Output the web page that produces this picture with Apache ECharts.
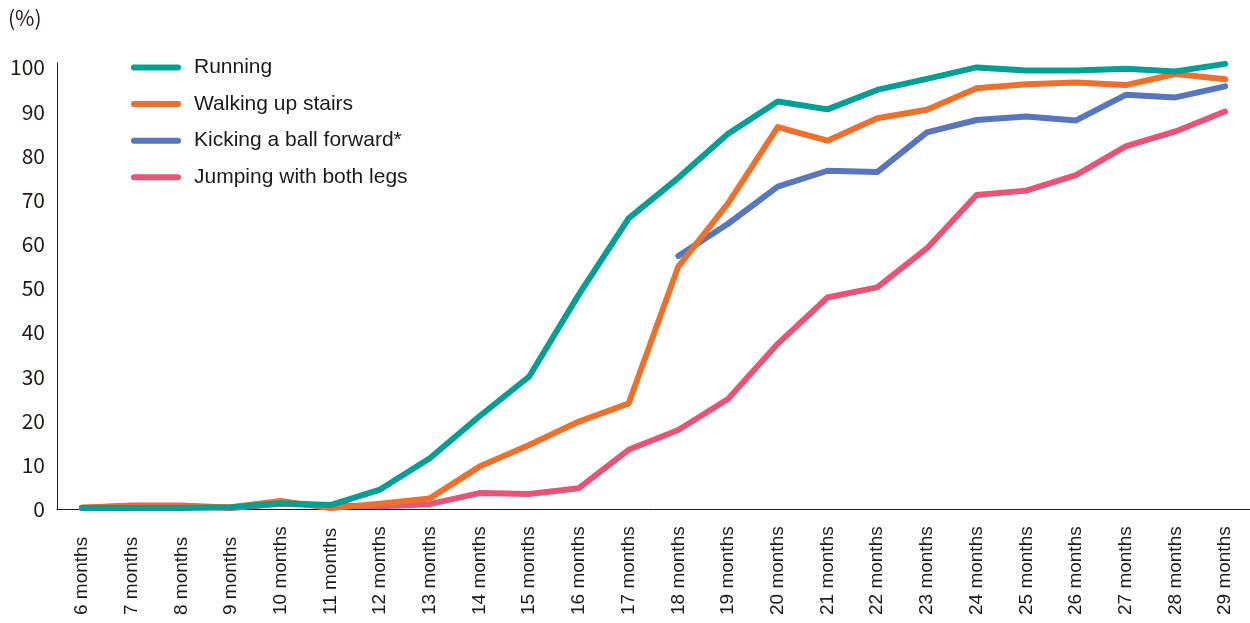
<!DOCTYPE html>
<html>
<head>
<meta charset="utf-8">
<script src="https://cdn.jsdelivr.net/npm/echarts@6/dist/echarts.min.js"></script>
<style>
    html, body { margin: 0; padding: 0; background: #fff; }
    #chart { width: 1250px; height: 623px; }
</style>
</head>
<body>
<div id="chart"></div>
<script>
// months of age
const months = ['6 months', '7 months', '8 months', '9 months', '10 months', '11 months', '12 months',
    '13 months', '14 months', '15 months', '16 months', '17 months', '18 months', '19 months',
    '20 months', '21 months', '22 months', '23 months', '24 months', '25 months', '26 months',
    '27 months', '28 months', '29 months'];

// share of children who can do it (%)
const running = [0.2, 0.2, 0.2, 0.4, 1.3, 0.9, 4.4, 11.5, 21.0, 30.0, 48.6, 65.8,
    75.0, 85.0, 92.3, 90.5, 94.9, 97.4, 100.0, 99.3, 99.3, 99.7, 99.1, 100.8];
const walkingUpStairs = [0.3, 0.6, 0.6, 0.4, 1.8, 0.2, 1.2, 2.4, 9.6, 14.5, 19.8, 23.9,
    54.9, 69.2, 86.5, 83.4, 88.5, 90.4, 95.3, 96.2, 96.6, 96.0, 98.5, 97.3];
// asked from 18 months only
const kickingBall = [null, null, null, null, null, null, null, null, null, null, null, null,
    57.3, 64.6, 73.0, 76.6, 76.3, 85.3, 88.1, 88.9, 88.0, 93.8, 93.2, 95.7];
const jumpingBothLegs = [0.3, 0.8, 0.8, 0.2, 1.2, 0.8, 0.6, 1.1, 3.6, 3.4, 4.7, 13.4,
    17.9, 24.9, 37.4, 47.9, 50.2, 59.0, 71.1, 72.1, 75.6, 82.1, 85.5, 90.0];

const seriesNames = ['Running', 'Walking up stairs', 'Kicking a ball forward*', 'Jumping with both legs'];
const colors = ['#00a096', '#ed702d', '#5876be', '#e85475'];

let myChart = echarts.init(document.getElementById('chart'));

const makeLine = (name, data, color, z) => ({
    name: name,
    type: 'line',
    data: data,
    z: z,
    showSymbol: false,
    symbol: 'none',
    connectNulls: false,
    lineStyle: {
        color: color,
        width: 6,
        cap: 'round',
        join: 'round'
    },
    itemStyle: { color: color }
});

let option = {
    animation: false,
    title: {
        text: '(%)',
        left: 8,
        top: 8,
        padding: 0,
        textStyle: {
            fontFamily: 'Noto Sans CJK JP',
            fontWeight: 'normal',
            fontSize: 21,
            color: '#231815'
        }
    },
    legend: {
        orient: 'vertical',
        left: 131,
        top: 57,
        padding: 0,
        itemWidth: 50,
        itemHeight: 6,
        itemGap: 15.6,
        icon: 'path://M3,0 L47,0 A3,3 0 0 1 47,6 L3,6 A3,3 0 0 1 3,0 Z',
        data: seriesNames,
        textStyle: {
            fontFamily: 'Liberation Sans',
            fontSize: 21,
            color: '#1a1a1a',
            padding: [0, 0, 0, 8]
        }
    },
    grid: {
        left: 57,
        top: 63,
        width: 1196,
        height: 446
    },
    xAxis: {
        type: 'category',
        data: months,
        boundaryGap: true,
        axisLine: {
            show: true,
            lineStyle: { color: '#231815', width: 1 }
        },
        axisTick: { show: false },
        axisLabel: {
            interval: 0,
            rotate: 90,
            align: 'left',
            margin: 106,
            fontFamily: 'Liberation Sans',
            fontSize: 19,
            color: '#1a1a1a'
        }
    },
    yAxis: {
        type: 'value',
        min: 0,
        max: 101,
        interval: 10,
        axisLine: {
            show: true,
            lineStyle: { color: '#231815', width: 1 }
        },
        axisTick: { show: false },
        splitLine: { show: false },
        axisLabel: {
            margin: 12,
            fontFamily: 'Noto Sans CJK JP',
            fontSize: 21,
            color: '#231815',
            padding: [5, 0, 0, 0],
            formatter: (v) => (v % 10 === 0 ? String(v) : '')
        }
    },
    series: [
        makeLine(seriesNames[0], running, colors[0], 5),
        makeLine(seriesNames[1], walkingUpStairs, colors[1], 4),
        makeLine(seriesNames[2], kickingBall, colors[2], 3),
        makeLine(seriesNames[3], jumpingBothLegs, colors[3], 2)
    ]
};

myChart.setOption(option, true);
window.addEventListener('resize', () => {
    myChart.resize();
});
</script>
</body>
</html>
